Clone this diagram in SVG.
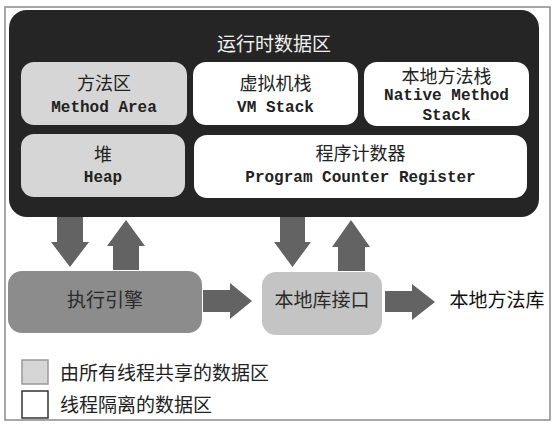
<svg xmlns="http://www.w3.org/2000/svg" width="557" height="425" viewBox="0 0 557 425">
<defs>
<style>
.cn{font-family:"Noto Sans CJK SC","Noto Sans",sans-serif;text-anchor:middle}
.en{font-family:"Liberation Mono","DejaVu Sans Mono",monospace;font-weight:bold;font-size:16px;text-anchor:middle;fill:#222}
.shared{fill:#d6d6d6}
.priv{fill:#ffffff}
.arrow{fill:#636363}
</style>
</defs>
<rect x="0" y="0" width="557" height="425" fill="#ffffff"/>
<rect x="5" y="7" width="545" height="413" fill="none" stroke="#8a8a8a" stroke-width="1.5"/>
<g id="runtime-data-area">
<rect x="9" y="10" width="530" height="207" rx="18" fill="#252525"/>
<text class="cn" x="274" y="51" font-size="19" fill="#f0f0f0">运行时数据区</text>
</g>
<g id="method-area">
<rect class="shared" x="21" y="62" width="166" height="63" rx="13"/>
<text class="cn" x="104" y="90" font-size="18" fill="#222">方法区</text>
<text class="en" x="104" y="112">Method Area</text>
</g>
<g id="vm-stack">
<rect class="priv" x="193" y="62" width="165" height="63" rx="13"/>
<text class="cn" x="275.5" y="90" font-size="18" fill="#222">虚拟机栈</text>
<text class="en" x="275.5" y="112">VM Stack</text>
</g>
<g id="native-method-stack">
<rect class="priv" x="364" y="62" width="165" height="64" rx="13"/>
<text class="cn" x="446.5" y="83" font-size="18" fill="#222">本地方法栈</text>
<text class="en" x="446.5" y="100">Native Method</text>
<text class="en" x="446.5" y="120">Stack</text>
</g>
<g id="heap">
<rect class="shared" x="21" y="134" width="164" height="63" rx="13"/>
<text class="cn" x="103" y="161" font-size="18" fill="#222">堆</text>
<text class="en" x="103" y="182">Heap</text>
</g>
<g id="program-counter-register">
<rect class="priv" x="194" y="135" width="333" height="63" rx="13"/>
<text class="cn" x="360.5" y="160" font-size="18" fill="#222">程序计数器</text>
<text class="en" x="360.5" y="182">Program Counter Register</text>
</g>
<g id="execution-engine">
<rect x="8" y="271" width="194" height="62" rx="14" fill="#8c8c8c"/>
<text class="cn" x="105" y="307" font-size="19" fill="#2a2a2a">执行引擎</text>
</g>
<g id="native-interface">
<rect x="262" y="272" width="120" height="63" rx="14" fill="#c4c4c4"/>
<text class="cn" x="322" y="307" font-size="19" fill="#2a2a2a">本地库接口</text>
</g>
<g id="native-library">
<text class="cn" x="497" y="307" font-size="19" fill="#111">本地方法库</text>
</g>
<g id="connectors">
<polygon class="arrow" points="57,217 83,217 83,242 89,242 70,267 51,242 57,242"/>
<polygon class="arrow" points="113,270 139,270 139,246 145,246 126,220 107,246 113,246"/>
<polygon class="arrow" points="280,217 305,217 305,242 311,242 292.5,267 274,242 280,242"/>
<polygon class="arrow" points="338,271 365,271 365,247 370,247 351,220 332,247 338,247"/>
<polygon class="arrow" points="203,290 230,290 230,283 252,301 230,319 230,312 203,312"/>
<polygon class="arrow" points="385,291 412,291 412,284 435,302 412,320 412,312 385,312"/>
</g>
<g id="legend">
<rect x="22" y="360" width="26" height="24" fill="#d6d6d6" stroke="#9a9a9a" stroke-width="1.5"/>
<text class="cn" x="60" y="380" font-size="19" fill="#222" style="text-anchor:start">由所有线程共享的数据区</text>
<rect x="22" y="391" width="26" height="27" fill="#ffffff" stroke="#333" stroke-width="1.5"/>
<text class="cn" x="60" y="412" font-size="19" fill="#222" style="text-anchor:start">线程隔离的数据区</text>
</g>
</svg>
